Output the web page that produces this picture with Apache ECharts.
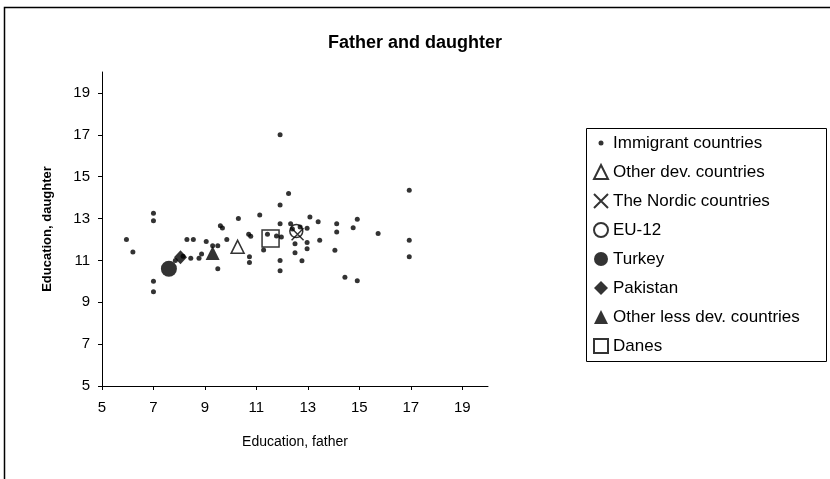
<!DOCTYPE html>
<html>
<head>
<meta charset="utf-8">
<script src="https://cdn.jsdelivr.net/npm/echarts@6/dist/echarts.min.js"></script>
<style>
  html, body { margin: 0; padding: 0; background: #fff; }
  #chart { width: 830px; height: 479px; }
</style>
</head>
<body>
<div id="chart"></div>
<script>
// values: [education father, education daughter]
const immigrantPoints = [
  [5.95, 12.0], [6.2, 11.4], [7.0, 13.25], [7.0, 12.9], [7.0, 10.0], [7.0, 9.5],
  [7.85, 11.0], [8.15, 11.2], [8.3, 12.0], [8.55, 12.0], [8.45, 11.1], [8.77, 11.1],
  [8.87, 11.3], [9.05, 11.9], [9.3, 11.7], [9.5, 11.7], [9.5, 10.6], [9.6, 12.65],
  [9.68, 12.55], [9.85, 12.0], [10.3, 13.0], [10.7, 12.25], [10.78, 12.15], [10.73, 11.17],
  [10.73, 10.9], [11.13, 13.17], [11.43, 12.25], [11.28, 11.5], [11.78, 12.17], [11.97, 12.12],
  [11.92, 13.65], [11.92, 12.75], [11.92, 11.0], [11.92, 10.5], [11.92, 17.0], [12.25, 14.2],
  [12.33, 12.75], [12.4, 12.5], [12.7, 12.6], [12.97, 12.53], [12.97, 11.85], [12.97, 11.56],
  [12.5, 11.8], [12.5, 11.37], [12.77, 10.98], [13.08, 13.07], [13.4, 12.85], [13.46, 11.96],
  [14.12, 12.75], [14.12, 12.36], [14.05, 11.49], [14.44, 10.19], [14.92, 12.97], [14.76, 12.56],
  [14.92, 10.03], [15.73, 12.28], [16.94, 11.96], [16.94, 11.17], [16.94, 14.35]
];
const otherDev = [[10.27, 11.65]];
const nordic = [[12.6, 12.25]];
const eu12 = [[12.55, 12.4]];
const turkey = [[7.6, 10.6]];
const pakistan = [[8.05, 11.15]];
const otherLessDev = [[9.3, 11.35]];
const danes = [[11.55, 12.05]];

const tickValues = [5, 7, 9, 11, 13, 15, 17, 19];

const font = 'Liberation Sans, Arial, sans-serif';
const crossPath = 'path://M0,0L10,10M10,0L0,10';
const smallDot = 'path://M0,0M14,14M4.5,7a2.5,2.5 0 1,0 5,0a2.5,2.5 0 1,0 -5,0';

const chart = echarts.init(document.getElementById('chart'));

function axis(name, extra) {
  return Object.assign({
    type: 'value',
    min: 5,
    max: 20,
    name: name,
    nameLocation: 'middle',
    axisLine: { show: true, lineStyle: { color: '#000', width: 1 } },
    axisTick: { show: true, length: 4, customValues: tickValues, lineStyle: { color: '#000' } },
    splitLine: { show: false }
  }, extra);
}

const open = { color: 'rgba(0,0,0,0)', borderColor: '#000', borderWidth: 1.5 };
const solid = { color: '#000' };

chart.setOption({
  animation: false,
  title: {
    text: 'Father and daughter',
    left: 'center',
    top: 29,
    textStyle: { fontFamily: font, fontSize: 18, fontWeight: 'bold', color: '#000' }
  },
  graphic: [
    // outer frame
    { type: 'rect', shape: { x: 4.5, y: 7.5, width: 900, height: 600 },
      style: { fill: 'none', stroke: '#000', lineWidth: 1.5 }, silent: true },
    // legend frame
    { type: 'rect', shape: { x: 586.5, y: 128.5, width: 240, height: 233 },
      style: { fill: 'none', stroke: '#000', lineWidth: 1 }, silent: true }
  ],
  grid: { left: 102, right: 342, top: 72, bottom: 93 },
  xAxis: axis('Education, father', {
    nameGap: 49,
    nameTextStyle: { fontFamily: font, fontSize: 14, color: '#000' },
    axisLabel: { customValues: tickValues, color: '#000', fontFamily: font, fontSize: 15, margin: 14 }
  }),
  yAxis: axis('Education, daughter', {
    nameGap: 48,
    nameTextStyle: { fontFamily: font, fontSize: 13, fontWeight: 'bold', color: '#000' },
    axisLabel: { customValues: tickValues, color: '#000', fontFamily: font, fontSize: 15, margin: 12 }
  }),
  legend: {
    orient: 'vertical',
    left: 593,
    top: 134.5,
    itemWidth: 14,
    itemHeight: 14,
    itemGap: 12,
    padding: 0,
    textStyle: { fontFamily: font, fontSize: 17, color: '#000', padding: [0, 0, 0, 0] },
    data: [
      { name: 'Immigrant countries', icon: smallDot },
      { name: 'Other dev. countries', icon: 'triangle' },
      { name: 'The Nordic countries', icon: crossPath },
      { name: 'EU-12', icon: 'circle' },
      { name: 'Turkey', icon: 'circle' },
      { name: 'Pakistan', icon: 'diamond' },
      { name: 'Other less dev. countries', icon: 'triangle' },
      { name: 'Danes', icon: 'rect' }
    ]
  },
  series: [
    { name: 'Immigrant countries', type: 'scatter', data: immigrantPoints,
      symbol: 'circle', symbolSize: 5, itemStyle: solid },
    { name: 'Other dev. countries', type: 'scatter', data: otherDev,
      symbol: 'triangle', symbolSize: 13, itemStyle: open },
    { name: 'The Nordic countries', type: 'scatter', data: nordic,
      symbol: crossPath, symbolSize: 12, itemStyle: open },
    { name: 'EU-12', type: 'scatter', data: eu12,
      symbol: 'circle', symbolSize: 13, itemStyle: open },
    { name: 'Turkey', type: 'scatter', data: turkey,
      symbol: 'circle', symbolSize: 16, itemStyle: solid },
    { name: 'Pakistan', type: 'scatter', data: pakistan,
      symbol: 'diamond', symbolSize: [13, 14], itemStyle: solid },
    { name: 'Other less dev. countries', type: 'scatter', data: otherLessDev,
      symbol: 'triangle', symbolSize: 14, itemStyle: solid },
    { name: 'Danes', type: 'scatter', data: danes,
      symbol: 'rect', symbolSize: 17, itemStyle: open }
  ]
});
</script>
</body>
</html>
